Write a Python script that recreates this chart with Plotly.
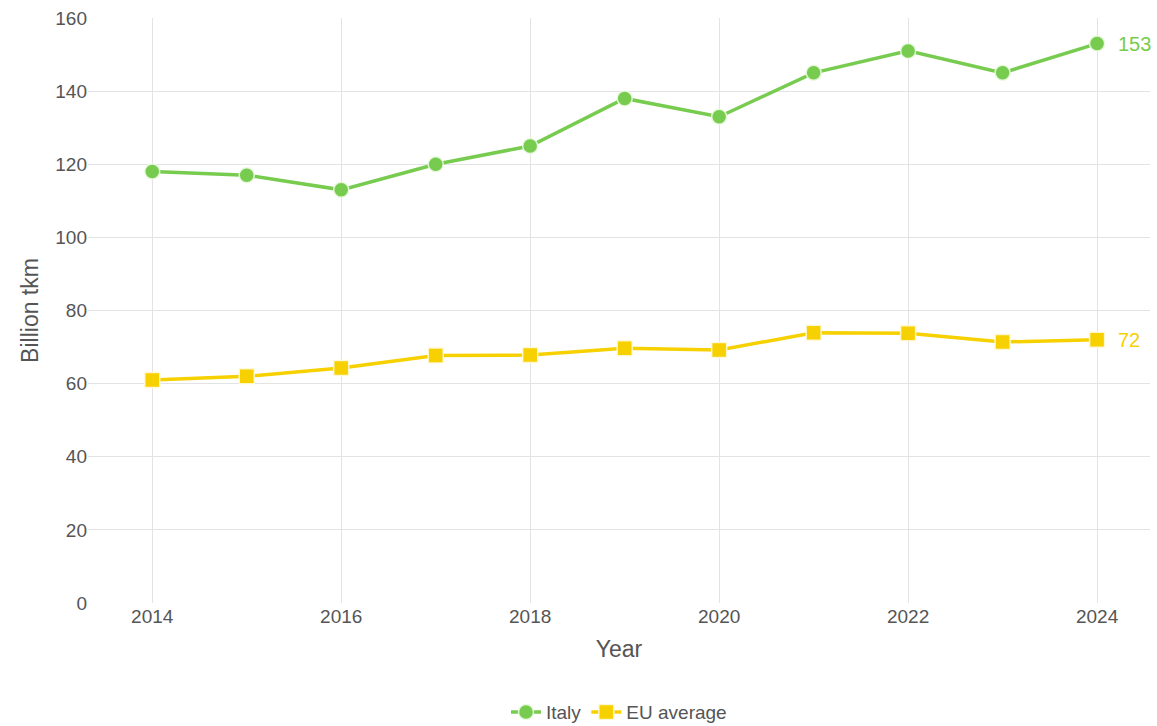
import plotly.graph_objects as go

years = [2014, 2015, 2016, 2017, 2018, 2019, 2020, 2021, 2022, 2023, 2024]
italy = [118, 117, 113, 120, 125, 138, 133, 145, 151, 145, 153]
eu_average = [61, 62, 64.3, 67.7, 67.8, 69.7, 69.2, 73.9, 73.8, 71.4, 72]

GREEN = "#77cc4f"
YELLOW = "#f7d000"
FONT = "Liberation Sans, Arial, sans-serif"

fig = go.Figure()
fig.add_trace(go.Scatter(
    x=years, y=italy, name="Italy", mode="lines+markers",
    line=dict(color=GREEN, width=3.5),
    marker=dict(symbol="circle", size=15, color=GREEN,
                line=dict(color="rgba(235,250,225,0.9)", width=1.5)),
))
fig.add_trace(go.Scatter(
    x=years, y=eu_average, name="EU average", mode="lines+markers",
    line=dict(color=YELLOW, width=3.5),
    marker=dict(symbol="square", size=15, color=YELLOW,
                line=dict(color="rgba(255,250,220,0.9)", width=1.5)),
))

# end-of-line value labels
for vals, col in ((italy, GREEN), (eu_average, YELLOW)):
    fig.add_annotation(
        x=years[-1], y=vals[-1], text=f"{vals[-1]:g}", showarrow=False,
        xanchor="left", xshift=19, font=dict(color=col, size=20, family=FONT),
    )

fig.update_layout(
    width=1157, height=726,
    margin=dict(l=88, r=7, t=18, b=123),
    paper_bgcolor="white", plot_bgcolor="white",
    font=dict(family=FONT, color="#555555", size=19),
    showlegend=True,
    legend=dict(orientation="h", x=0.5, xanchor="center",
                yref="container", y=0.019, yanchor="middle",
                font=dict(size=19, color="#555555"), itemwidth=30,
                tracegroupgap=0),
    xaxis=dict(
        range=[2013.32, 2024.56], tickmode="array", tickvals=list(range(2014, 2025, 2)),
        showgrid=True, gridcolor="#e3e3e3", gridwidth=1, zeroline=False,
        showline=False, ticks="", tickfont=dict(size=19, color="#555555"),
        automargin=False,
        title=dict(text="Year", font=dict(size=23, color="#555555"), standoff=14),
    ),
    yaxis=dict(
        range=[0, 160], tickmode="array", tickvals=list(range(0, 161, 20)),
        showgrid=True, gridcolor="#e3e3e3", gridwidth=1, zeroline=False,
        showline=False, ticks="", tickfont=dict(size=19, color="#555555"),
        automargin=False,
        title=dict(text="Billion tkm", font=dict(size=23, color="#555555"), standoff=10),
    ),
)

fig.write_html("out.html")
